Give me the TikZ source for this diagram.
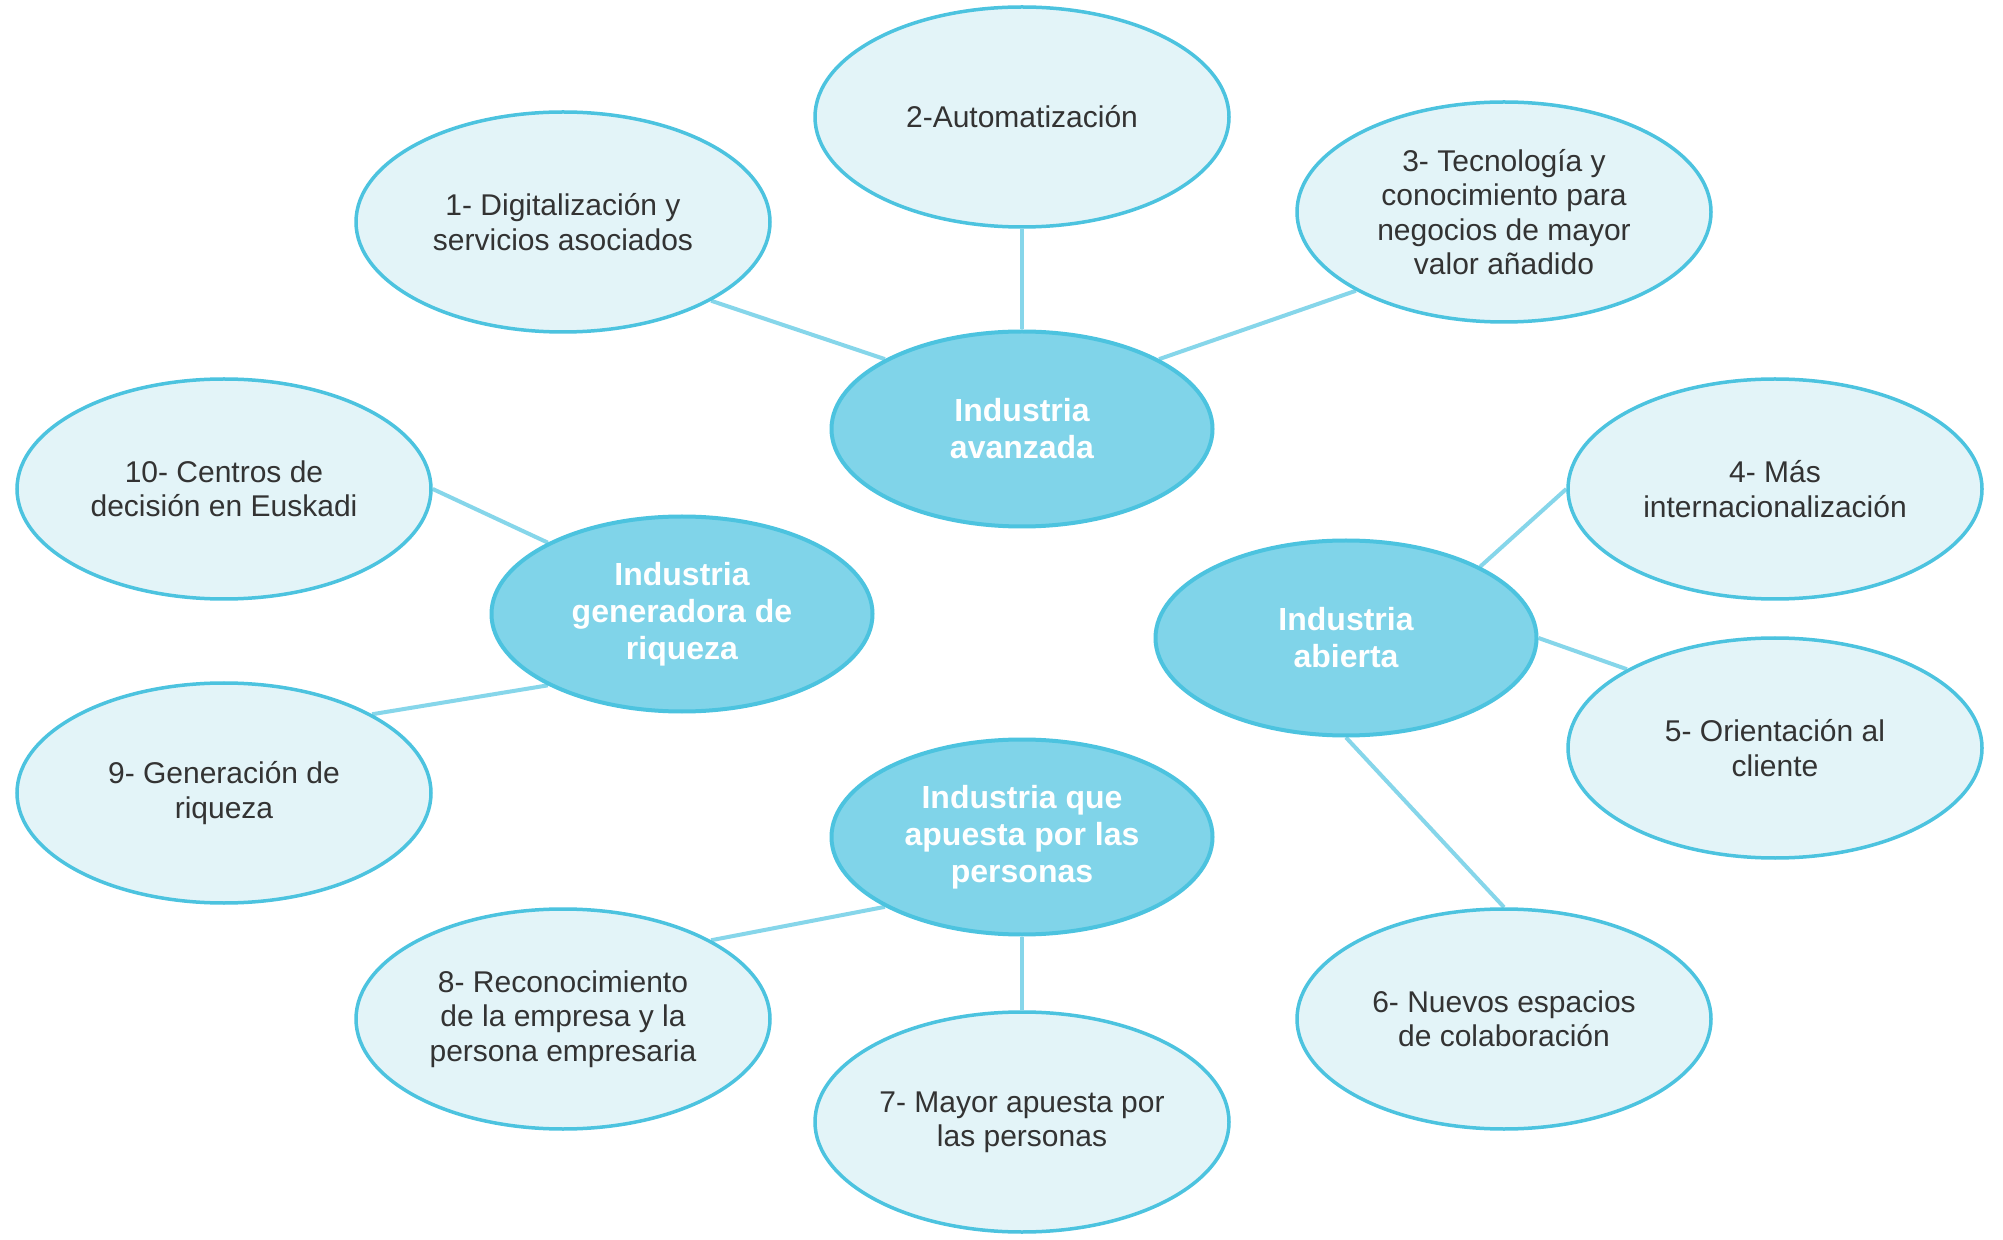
\documentclass[tikz,border=0pt]{standalone}
\usepackage{fontspec}
\setmainfont{Liberation Sans}
\usetikzlibrary{shapes.geometric,backgrounds}
\definecolor{outerfill}{HTML}{E3F4F8}
\definecolor{ringcol}{HTML}{4CC3DF}
\definecolor{hubfill}{HTML}{80D4E9}
\definecolor{linkcol}{HTML}{86D6EA}
\definecolor{txtcol}{HTML}{333333}
\begin{document}
\begin{tikzpicture}[x=0.5pt,y=-0.5pt,
  leaf/.style={ellipse, draw=ringcol, fill=outerfill, line width=1.75pt,
    minimum width=207pt, minimum height=110pt, inner sep=0pt, align=center,
    text=txtcol, font=\fontsize{15}{17.2}\selectfont},
  hub/.style={ellipse, draw=ringcol, fill=hubfill, line width=2pt,
    minimum width=190.5pt, minimum height=97.5pt, inner sep=0pt, align=center,
    text=white, font=\fontsize{16}{18.5}\selectfont\bfseries},
  link/.style={draw=linkcol, line width=2pt}]
\useasboundingbox (0,0) rectangle (2003,1240);

\node[hub] (C1) at (1022,429) {Industria\\avanzada};
\node[hub] (C2) at (682,614) {Industria\\generadora de\\riqueza};
\node[hub] (C3) at (1346,638) {Industria\\abierta};
\node[hub] (C4) at (1022,837) {Industria que\\apuesta por las\\personas};

\node[leaf] (E1) at (563,222) {1- Digitalización y\\servicios asociados};
\node[leaf] (E2) at (1022,117) {2-Automatización};
\node[leaf] (E3) at (1504,212) {3- Tecnología y\\conocimiento para\\negocios de mayor\\valor añadido};
\node[leaf] (E4) at (1775,489) {4- Más\\internacionalización};
\node[leaf] (E5) at (1775,748) {5- Orientación al\\cliente};
\node[leaf] (E6) at (1504,1019) {6- Nuevos espacios\\de colaboración};
\node[leaf] (E7) at (1022,1122) {7- Mayor apuesta por\\las personas};
\node[leaf] (E8) at (563,1019) {8- Reconocimiento\\de la empresa y la\\persona empresaria};
\node[leaf] (E9) at (224,793) {9- Generación de\\riqueza};
\node[leaf] (E10) at (224,489) {10- Centros de\\decisión en Euskadi};

\begin{pgfonlayer}{background}
\fill[white] (0,0) rectangle (2003,1240);
\draw[link] (C1.153) -- (E1.-28);
\draw[link] (C1.north) -- (E2.south);
\draw[link] (C1.27) -- (E3.208);
\draw[link] (C2.152) -- (E10.east);
\draw[link] (C2.208) -- (E9.28);
\draw[link] (C3.28) -- (E4.west);
\draw[link] (C3.east) -- (E5.152);
\draw[link] (C3.south) -- (E6.north);
\draw[link] (C4.207) -- (E8.28);
\draw[link] (C4.south) -- (E7.north);
\end{pgfonlayer}
\end{tikzpicture}
\end{document}
